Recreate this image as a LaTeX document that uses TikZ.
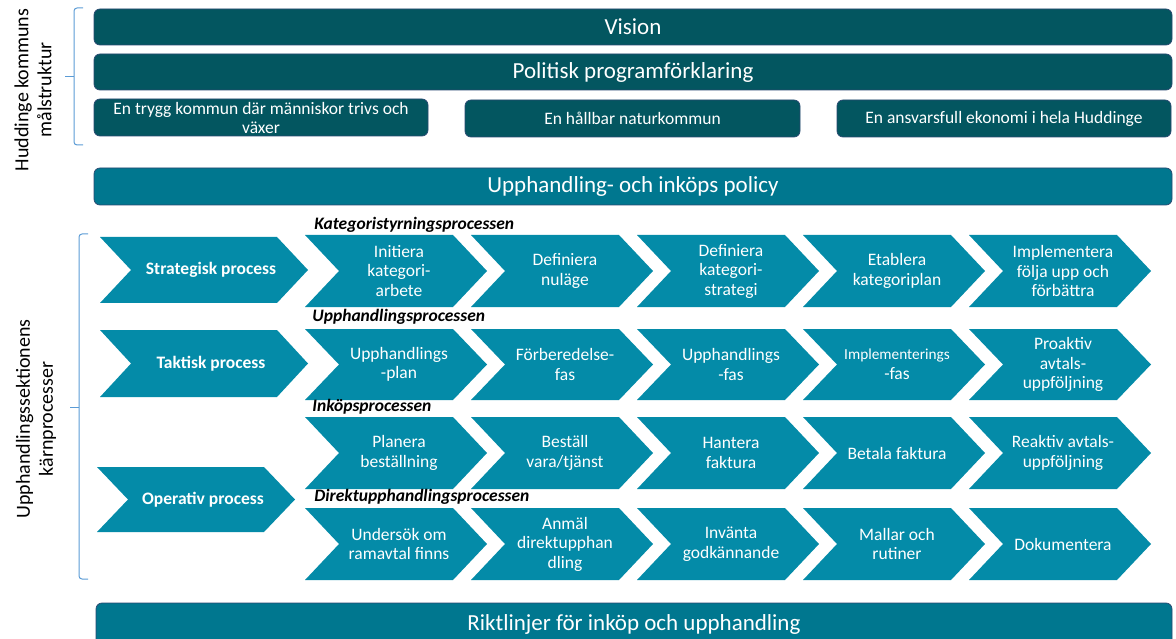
\documentclass[tikz,border=0pt]{standalone}
\usepackage{fontspec}
\setmainfont{Carlito}

\definecolor{malteal}{RGB}{3,86,96}
\definecolor{malline}{RGB}{40,72,112}
\definecolor{policyblue}{RGB}{0,119,143}
\definecolor{chevblue}{RGB}{4,139,168}
\definecolor{braceblue}{RGB}{91,155,213}

\tikzset{every picture/.style={line width=0.75pt}}
\tikzset{
  malbox/.style={draw=malline, fill=malteal, rounded corners=6pt, text=white,
    inner sep=0pt, align=center, font=\fontsize{17.5}{19}\selectfont},
  bigbox/.style={malbox, font=\fontsize{23}{26}\selectfont},
  chevtext/.style={text=white, align=center, inner sep=0pt,
    font=\fontsize{17.5}{19.5}\selectfont},
  bigchevtext/.style={text=white, align=center, inner sep=0pt,
    font=\fontsize{17.5}{20}\selectfont\bfseries},
  proclabel/.style={anchor=west, inner sep=0pt,
    font=\fontsize{17.5}{20}\selectfont\bfseries\itshape},
  sidelabel/.style={rotate=90, align=center, inner sep=0pt,
    font=\fontsize{20}{23}\selectfont},
  brace/.style={draw=braceblue, line width=1pt, rounded corners=3pt}
}

% one row of five chevrons: prefix, top y, height, texts
\newcommand{\chevrow}[4]{%
  \foreach \t [count=\i] in {#4}{
    \pgfmathsetmacro\xa{305+166*(\i-1)}
    \fill[chevblue] (\xa,#2) -- ++(148,0) -- ++(34,#3/2) -- ++(-34,#3/2)
      -- ++(-148,0) -- ++(34,-#3/2) -- cycle;
    \node[chevtext] (#1\i) at (\xa+94,#2+#3/2) {\t};
  }
}

\begin{document}
\begin{tikzpicture}[x=1pt,y=1pt,yscale=-1,xscale=1]

    \useasboundingbox (0,0) rectangle (1176,639);

    % malstruktur
    \node[bigbox, minimum width=1078, minimum height=36] (vision) at (633,27) {Vision};
    \node[bigbox, minimum width=1078, minimum height=36] (politisk) at (633,72) {Politisk programförklaring};
    \node[malbox, minimum width=334, minimum height=37] (mal1) at (261,117.5)
        {En trygg kommun där människor trivs och\\växer};
    \node[malbox, minimum width=335, minimum height=37] (mal2) at (632.5,118.5)
        {En hållbar naturkommun};
    \node[malbox, minimum width=334, minimum height=37] (mal3) at (1004,118.5)
        {En ansvarsfull ekonomi i hela Huddinge};

    \node[bigbox, fill=policyblue, minimum width=1078, minimum height=37] (policy) at (633,186.5)
        {Upphandling- och inköps policy};

    \node[bigbox, fill=policyblue, minimum width=1076, minimum height=42] (riktlinjer) at (634,624)
        {\raisebox{2.5pt}{Riktlinjer för inköp och upphandling}};

    % braces and side labels
    \draw[brace] (83,8) -- (74,8) -- (74,145) -- (83,145);
    \draw[brace] (74,77) -- (65,77);
    \node[sidelabel] (malstruktur) at (33,90) {Huddinge kommuns\\målstruktur};

    \draw[brace] (88,234) -- (79,234) -- (79,579) -- (88,579);
    \draw[brace] (79,407) -- (70,407);
    \node[sidelabel] (karnprocesser) at (36,419) {Upphandlingssektionens\\kärnprocesser};

    % process levels
    \foreach \name/\xa/\ya/\w/\h/\t in {
        strategisk/100/237/208/66/Strategisk process,
        taktisk/100/330/208/67/Taktisk process,
        operativ/97/467/198/65/Operativ process}{
        \fill[chevblue] (\xa,\ya) -- ++(\w-31,0) -- ++(31,\h/2) -- ++(-31,\h/2)
            -- ++(-\w+31,0) -- ++(31,-\h/2) -- cycle;
        \node[bigchevtext] (\name) at (\xa+\w/2+7,\ya+\h/2) {\t};
    }

    % process steps
    \chevrow{k}{235}{72}{{Initiera\\kategori-\\arbete}, {Definiera\\nuläge},
        {Definiera\\kategori-\\strategi}, {Etablera\\kategoriplan},
        {Implementera\\följa upp och\\förbättra}}
    \chevrow{u}{329}{71}{{Upphandlings\\-plan}, {Förberedelse-\\fas},
        {Upphandlings\\-fas}, {\fontsize{15.3}{17}\selectfont Implementerings\\-fas},
        {Proaktiv\\avtals-\\uppföljning}}
    \chevrow{i}{417}{72}{{Planera\\beställning}, {Beställ\\vara/tjänst},
        {Hantera\\faktura}, {Betala faktura}, {Reaktiv avtals-\\uppföljning}}
    \chevrow{d}{508}{72}{{Undersök om\\ramavtal finns}, {Anmäl\\direktupphan\\dling},
        {Invänta\\godkännande}, {Mallar och\\rutiner}, {Dokumentera}}

    \node[proclabel] (katlabel) at (314,225) {Kategoristyrningsprocessen};
    \node[proclabel] (upplabel) at (312,317) {Upphandlingsprocessen};
    \node[proclabel] (inklabel) at (312,407) {Inköpsprocessen};
    \node[proclabel] (dirlabel) at (314,497) {Direktupphandlingsprocessen};

\end{tikzpicture}
\end{document}
